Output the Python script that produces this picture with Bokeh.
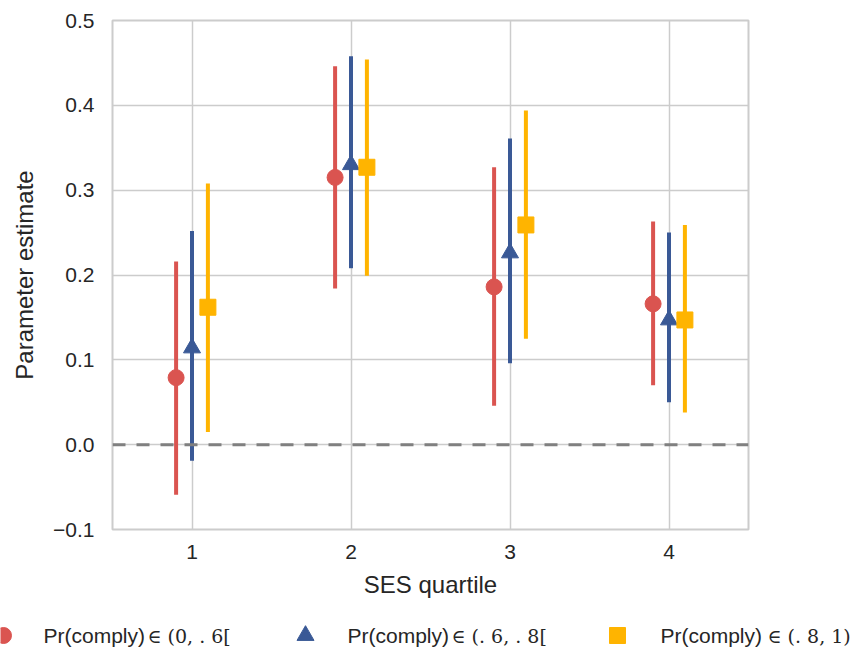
import numpy as np
from bokeh.plotting import figure
from bokeh.models import (ColumnDataSource, FixedTicker, CustomJSTickFormatter, Span, Range1d)
from bokeh.core.properties import value
from bokeh.embed import file_html
from bokeh.resources import INLINE

# ---- data ----
quartiles = [1, 2, 3, 4]
tick_labels = ["1", "2", "3", "4"]
y_ticks = [-0.1, 0.0, 0.1, 0.2, 0.3, 0.4, 0.5]

low_est = [0.079, 0.315, 0.186, 0.166]
low_lo = [-0.059, 0.184, 0.046, 0.070]
low_hi = [0.216, 0.446, 0.327, 0.263]

mid_est = [0.114, 0.330, 0.226, 0.147]
mid_lo = [-0.019, 0.208, 0.096, 0.050]
mid_hi = [0.252, 0.458, 0.361, 0.250]

high_est = [0.162, 0.327, 0.259, 0.147]
high_lo = [0.015, 0.199, 0.125, 0.038]
high_hi = [0.308, 0.454, 0.394, 0.259]

legend_prefix = ["Pr(comply)", "Pr(comply)", "Pr(comply)"]
legend_math = ["\u2208 (0, . 6[", "\u2208 (. 6, . 8[", "\u2208 (. 8, 1)"]

colors = ["#DA5450", "#3A5996", "#FFB400"]
markers = ["circle", "triangle", "square"]
sizes = [16, 17, 16]
offsets = [-0.1, 0.0, 0.1]

FONT = "Liberation Sans"
TXT = "#262626"

p = figure(width=853, height=608, output_backend="svg", toolbar_location=None,
           x_range=Range1d(0.5, 4.5), y_range=Range1d(-0.1, 0.5),
           min_border_left=112, min_border_right=105, min_border_top=20, min_border_bottom=79)

p.background_fill_color = "white"
p.outline_line_color = "#cccccc"
p.outline_line_width = 2

for g in [p.xgrid[0], p.ygrid[0]]:
    g.grid_line_color = "#cccccc"
    g.grid_line_width = 1.5
p.xgrid[0].ticker = FixedTicker(ticks=quartiles)
p.ygrid[0].ticker = FixedTicker(ticks=y_ticks)

zero = Span(location=0, dimension="width", line_color="#808080", line_width=3,
            line_dash="13 11", level="glyph")
p.add_layout(zero)

series = [(low_est, low_lo, low_hi), (mid_est, mid_lo, mid_hi), (high_est, high_lo, high_hi)]
for (est, lo, hi), c, m, s, off in zip(series, colors, markers, sizes, offsets):
    xs = np.array(quartiles, dtype=float) + off
    src = ColumnDataSource(dict(x=xs, est=est, lo=lo, hi=hi))
    p.segment(x0="x", y0="lo", x1="x", y1="hi", source=src, line_color=c, line_width=4)
    p.scatter(x="x", y="est", source=src, marker=m, size=s, fill_color=c, line_color=c)

# axes
for ax in [p.xaxis[0], p.yaxis[0]]:
    ax.axis_line_color = None
    ax.major_tick_line_color = None
    ax.minor_tick_line_color = None
    ax.major_tick_out = 0
    ax.major_tick_in = 0
    ax.major_label_text_font = FONT
    ax.major_label_text_font_size = "21px"
    ax.major_label_text_color = TXT
    ax.axis_label_text_font = FONT
    ax.axis_label_text_font_size = "24px"
    ax.axis_label_text_font_style = "normal"
    ax.axis_label_text_color = TXT

p.xaxis.ticker = FixedTicker(ticks=quartiles)
p.xaxis.major_label_overrides = {q: t for q, t in zip(quartiles, tick_labels)}
p.xaxis.axis_label = "SES quartile"
p.xaxis.major_label_standoff = 15
p.xaxis.axis_label_standoff = 9

p.yaxis.ticker = FixedTicker(ticks=y_ticks)
p.yaxis.formatter = CustomJSTickFormatter(code="return tick.toFixed(1).replace('-', '\\u2212');")
p.yaxis.axis_label = "Parameter estimate"
p.yaxis.major_label_standoff = 18
p.yaxis.axis_label_standoff = 12

# ---- legend strip (separate root, 1 px = 1 unit) ----
lg = figure(width=853, height=42, output_backend="svg", toolbar_location=None,
            x_range=Range1d(0, 853), y_range=Range1d(0, 42),
            min_border=0, min_border_left=0, min_border_right=0, min_border_top=0, min_border_bottom=0)
lg.axis.visible = False
lg.grid.visible = False
lg.outline_line_color = None

mk_x = [3, 305, 617]
txt_x = [43, 347, 660]
math_x = [147, 451, 767]
mk_y = 15
txt_y = 15
for i in range(3):
    lg.scatter(x=[mk_x[i]], y=[mk_y], marker=markers[i], size=sizes[i],
               fill_color=colors[i], line_color=colors[i])
    lg.text(x=[txt_x[i]], y=[txt_y], text=[legend_prefix[i]], text_font=value(FONT),
            text_font_size="21px", text_color=TXT, text_baseline="middle", text_align="left")
    lg.text(x=[math_x[i]], y=[txt_y], text=[legend_math[i]], text_font=value("DejaVu Serif"),
            text_font_size="19px", text_color=TXT, text_baseline="middle", text_align="left")

open("out.html", "w").write(file_html([p, lg], INLINE))
